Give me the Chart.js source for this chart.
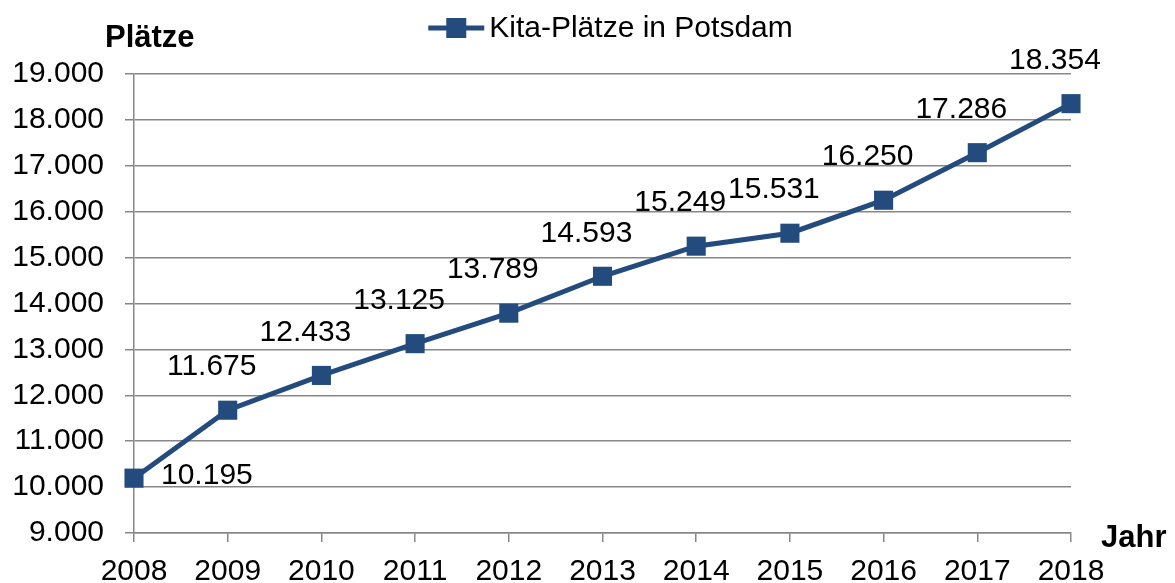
<!DOCTYPE html>
<html>
<head>
<meta charset="utf-8">
<script src="https://cdn.jsdelivr.net/npm/chart.js@4/dist/chart.umd.min.js"></script>
<style>
  html, body { margin: 0; padding: 0; background: #fff; }
  #wrap { width: 1175px; height: 583px; }
</style>
</head>
<body>
<div id="wrap"><canvas id="kitaChart"></canvas></div>
<script>
const years = ['2008', '2009', '2010', '2011', '2012', '2013', '2014', '2015', '2016', '2017', '2018'];
const places = [10195, 11675, 12433, 13125, 13789, 14593, 15249, 15531, 16250, 17286, 18354];
const seriesName = 'Kita-Plätze in Potsdam';
const yTitle = 'Plätze';
const xTitle = 'Jahr';

const blue = '#234b7e';
const gray = '#878787';
const font = '"Liberation Sans", Arial, sans-serif';

// German thousands separator
function fmt(v) {
  return String(v).replace(/\B(?=(\d{3})+(?!\d))/g, '.');
}

// titles, legend and value labels drawn on top
const extras = {
  id: 'extras',
  afterDatasetsDraw(chart) {
    const ctx = chart.ctx;
    const area = chart.chartArea;
    ctx.save();

    // axis titles
    ctx.fillStyle = '#000';
    ctx.font = 'bold 31px ' + font;
    ctx.textAlign = 'left';
    ctx.textBaseline = 'middle';
    ctx.fillText(yTitle, area.left - 29, 38);
    ctx.fillText(xTitle, area.right + 30, area.bottom + 5);

    // legend: line with square marker
    ctx.font = '30px ' + font;
    const tw = ctx.measureText(seriesName).width;
    const total = 56 + 5 + tw;
    const lx = (area.left + area.right) / 2 + 8 - total / 2;
    const ly = 28;
    ctx.strokeStyle = blue;
    ctx.lineWidth = 5;
    ctx.beginPath();
    ctx.moveTo(lx, ly);
    ctx.lineTo(lx + 56, ly);
    ctx.stroke();
    ctx.fillStyle = blue;
    ctx.fillRect(lx + 28 - 10, ly - 10, 20, 20);
    ctx.fillStyle = '#000';
    ctx.fillText(seriesName, lx + 61, ly + 1);

    // value labels
    const meta = chart.getDatasetMeta(0);
    ctx.font = '30px ' + font;
    meta.data.forEach((pt, i) => {
      const txt = fmt(places[i]);
      if (i === 0) {
        ctx.textAlign = 'left';
        ctx.fillText(txt, pt.x + 27, pt.y - 2);
      } else {
        ctx.textAlign = 'center';
        ctx.fillText(txt, pt.x - 16, pt.y - 43);
      }
    });
    ctx.restore();
  }
};

const ctx = document.getElementById('kitaChart').getContext('2d');
new Chart(ctx, {
  type: 'line',
  data: {
    labels: years,
    datasets: [{
      label: seriesName,
      data: places,
      borderColor: blue,
      backgroundColor: blue,
      borderWidth: 5,
      pointStyle: 'rect',
      pointRadius: 13.5,
      pointHoverRadius: 13.5,
      pointBorderWidth: 0,
      pointBackgroundColor: blue,
      tension: 0,
      clip: false
    }]
  },
  options: {
    responsive: true,
    maintainAspectRatio: false,
    animation: false,
    layout: { padding: { top: 74, right: 104, left: 0, bottom: 0 } },
    plugins: {
      legend: { display: false },
      tooltip: { enabled: false }
    },
    scales: {
      x: {
        type: 'category',
        offset: false,
        afterFit(scale) { scale.height = 50; },
        grid: {
          drawOnChartArea: false,
          drawTicks: true,
          tickLength: 9,
          color: gray,
          lineWidth: 1.5
        },
        border: { color: gray, width: 1.5 },
        ticks: {
          color: '#000',
          font: { family: font, size: 30 },
          padding: 12,
          maxRotation: 0,
          autoSkip: false
        }
      },
      y: {
        min: 9000,
        max: 19000,
        afterFit(scale) { scale.width = 134; },
        grid: {
          color: gray,
          lineWidth: 1.5,
          tickLength: 9
        },
        border: { color: gray, width: 1.5 },
        ticks: {
          stepSize: 1000,
          color: '#000',
          font: { family: font, size: 30 },
          padding: 21,
          callback: function(v) { return fmt(v); }
        }
      }
    }
  },
  plugins: [extras]
});
</script>
</body>
</html>
